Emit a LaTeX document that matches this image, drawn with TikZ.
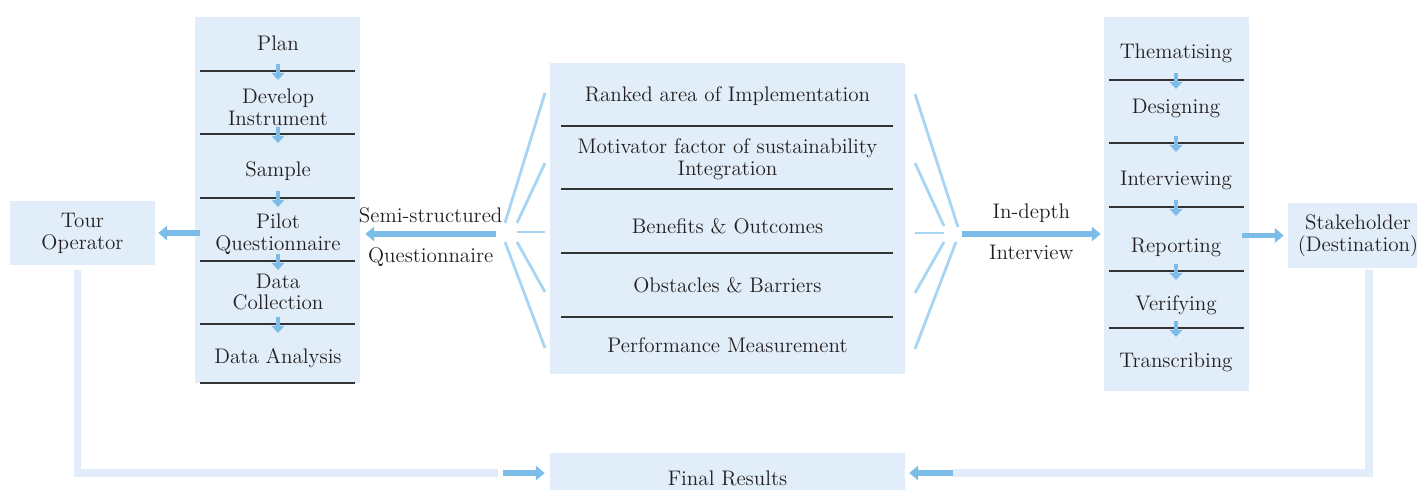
\documentclass[tikz,border=0pt]{standalone}
\usepackage{tikz}
\usetikzlibrary{arrows.meta,positioning}

\definecolor{paleblue}{HTML}{E1EDF8}
\definecolor{midblue}{HTML}{7BBCE8}
\definecolor{fanblue}{HTML}{A8D5F3}
\definecolor{inkgray}{HTML}{231F20}

\begin{document}
\begin{tikzpicture}[x=0.02cm,y=-0.02cm,font=\fontsize{12}{12.5}\selectfont,text=inkgray]
\tikzstyle{panel} = [rectangle, fill=paleblue, inner sep=0pt]
\tikzstyle{txt} = [align=center, inner sep=0pt]
\tikzstyle{divider} = [draw=black!80, line width=0.7pt]
\tikzstyle{bigarrow} = [draw=midblue, line width=3.4pt, -{Triangle[length=5pt,width=8pt]}]
\tikzstyle{tick} = [draw=midblue, line width=2.6pt, -{Triangle[length=4pt,width=7pt]}]
\tikzstyle{fan} = [draw=fanblue, line width=1.6pt]
\tikzstyle{feedback} = [draw=paleblue, line width=4pt]

\useasboundingbox (0,0) rectangle (1417,490);

% boxes
\node [panel, minimum width=2.9cm, minimum height=1.28cm] (tour) at (82.5,233) {};
\node [panel, minimum width=3.3cm, minimum height=7.32cm] (lcol) at (277.5,200) {};
\node [panel, minimum width=7.1cm, minimum height=6.22cm] (mid) at (727.5,218.5) {};
\node [panel, minimum width=2.9cm, minimum height=7.48cm] (rcol) at (1176.5,204) {};
\node [panel, minimum width=2.8cm, minimum height=1.3cm] (stake) at (1358,235.5) {};
\node [panel, minimum width=7.1cm, minimum height=1cm] (final) at (727.5,478) {};

% end points
\node [txt] at (tour.center) {Tour\\Operator};
\node [txt] at (stake.center) {Stakeholder\\(Destination)};
\node [txt] at (final.center) {Final Results};

% questionnaire steps
\node [txt] (plan) at (278,43) {Plan};
\node [txt] (develop) at (278,107) {Develop\\Instrument};
\node [txt] (sample) at (278,171) {Sample};
\node [txt] (pilot) at (278,234) {Pilot\\Questionnaire};
\node [txt] (collect) at (278,292) {Data\\Collection};
\node [txt] (analysis) at (278,358) {Data Analysis};
\foreach \y in {71,134,198,261,324,383}
  \draw [divider] (200,\y) -- (355,\y);
\foreach \y in {71,134,198,261,324}
  \draw [tick] (278,\y-7) -- (278,\y+9);

% themes
\node [txt] (ranked) at (727.5,96) {Ranked area of Implementation};
\node [txt] (motiv) at (727.5,159) {Motivator factor of sustainability\\Integration};
\node [txt] (benefit) at (727.5,226) {Benefits \& Outcomes};
\node [txt] (obstacle) at (727.5,285) {Obstacles \& Barriers};
\node [txt] (perform) at (727.5,345) {Performance Measurement};
\foreach \y in {126,189,253,317}
  \draw [divider] (561,\y) -- (893,\y);

% interview steps
\node [txt] (theme) at (1176,53) {Thematising};
\node [txt] (design) at (1176,108) {Designing};
\node [txt] (interv) at (1176,180) {Interviewing};
\node [txt] (report) at (1176,247) {Reporting};
\node [txt] (verify) at (1176,305) {Verifying};
\node [txt] (transc) at (1176,362) {Transcribing};
\foreach \y in {80,143,207,271,328}
  \draw [divider] (1109,\y) -- (1244,\y);
\foreach \y in {80,143,207,271,328}
  \draw [tick] (1176,\y-7) -- (1176,\y+9);

% fans
\draw [fan] (545,93) -- (505,223);
\draw [fan] (545,163) -- (517,223);
\draw [fan] (545,232) -- (517,232);
\draw [fan] (545,292) -- (517,242);
\draw [fan] (545,348) -- (505,242);
\draw [fan] (915,94) -- (958,227);
\draw [fan] (915,163) -- (944,226);
\draw [fan] (915,233) -- (944,233);
\draw [fan] (915,293) -- (944,242);
\draw [fan] (915,349) -- (956,242);
\coordinate (qfan) at (496,234);
\coordinate (ifan) at (962,234);

% main arrows
\draw [bigarrow] (qfan) -- node [above=1pt] {Semi-structured} node [below=2.6pt] {Questionnaire}
  ([xshift=0.1cm]lcol.east |- qfan);
\draw [bigarrow] ([xshift=0.1cm]lcol.west |- tour.east) -- ([xshift=0.06cm]tour.east);
\draw [bigarrow] (ifan) -- node [above=1.5pt] {In-depth} node [below=1.5pt] {Interview}
  ([xshift=-0.06cm]rcol.west |- ifan);
\draw [bigarrow] ([xshift=-0.14cm]rcol.east |- stake.west) -- ([xshift=-0.08cm]stake.west);

% back to results
\coordinate (lfb) at (498,473);
\coordinate (rfb) at (953,473);
\draw [feedback] ([xshift=-0.1cm,yshift=-0.1cm]tour.south) |- (lfb);
\draw [feedback] ([xshift=0.22cm,yshift=-0.04cm]stake.south) |- (rfb);
\draw [bigarrow] ([xshift=0.1cm]lfb) -- ([xshift=-0.1cm]final.west |- lfb);
\draw [bigarrow] (rfb) -- ([xshift=0.08cm]final.east |- rfb);
\end{tikzpicture}
\end{document}
